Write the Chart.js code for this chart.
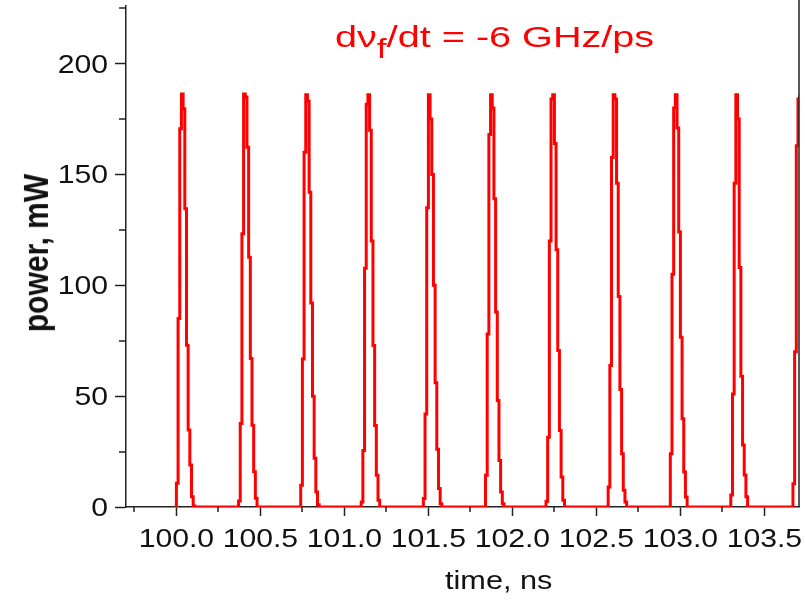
<!DOCTYPE html>
<html>
<head>
<meta charset="utf-8">
<script src="https://cdn.jsdelivr.net/npm/chart.js@4.4.0/dist/chart.umd.min.js"></script>
<style>
  body { margin: 0; background: #fff; }
  #wrap { position: relative; width: 805px; height: 606px; }
  canvas { position: absolute; left: 0; top: 0; }
  .lbl { position: absolute; font-family: 'Liberation Sans', Arial, sans-serif; white-space: nowrap; line-height: 1; }
</style>
</head>
<body>
<div id="wrap">
  <canvas id="c" width="805" height="606"></canvas>
  <div class="lbl" style="left:335px; top:22px; font-size:30px; color:#ff0000; transform-origin:0 0; transform:scaleX(1.32);">dν<span style="font-size:27px; position:relative; top:11px;">f</span>/dt = -6 GHz/ps</div>
  <div class="lbl" style="left:445px; top:567px; font-size:26px; color:#111; transform-origin:0 0; transform:scaleX(1.18);">time, ns</div>
  <div class="lbl" style="left:36px; top:253px; font-size:30px; font-weight:bold; color:#111; transform:translate(-50%,-50%) scaleX(1.18) rotate(-90deg);">power, mW</div>
</div>
<script>
// pulse train, sampled every 0.01 ns; each pulse listed from its first non-zero sample
var dt = 0.01;
var pulseStart = [100.00, 100.37, 100.74, 101.10, 101.47, 101.84, 102.20, 102.57, 102.94, 103.30, 103.67];
var pulse1  = [10.7, 85, 170.6, 186.3, 179.6, 134.5, 73, 34.7, 18.9, 4.6, 0.5, 0];
var pulse2  = [2.7, 37.7, 123.3, 186.3, 185, 162.3, 112.7, 67, 36.9, 15.9, 3.9, 0];
var pulse3  = [9.8, 66.8, 160, 186, 183, 142, 92, 50, 22, 6.8, 1, 0];
var pulse4  = [2.3, 25.5, 107.7, 181.7, 186, 170, 120, 72.8, 36.8, 14.3, 3, 0];
var pulse5  = [3.8, 42, 135, 186, 175, 150, 100, 56, 26, 8.3, 1.5, 0];
var pulse6  = [14.3, 78, 168, 186, 180, 139, 88, 48, 21, 6.8, 1.5, 0];
var pulse7  = [2.6, 31.5, 120, 184, 186, 164, 116, 70.6, 34.5, 13.5, 3, 0];
var pulse8  = [9, 63.8, 157.7, 186, 184, 146, 95, 53, 24, 7.5, 2.2, 0];
var pulse9  = [24, 105, 180, 186, 171, 124, 76.6, 39.8, 15.8, 4.5, 0];
var pulse10 = [5.4, 51, 146, 186, 175, 108, 59, 28, 14.4, 4.6, 0];
var pulse11 = [10.5, 70, 163, 184, 186];
var pulses = [pulse1, pulse2, pulse3, pulse4, pulse5, pulse6, pulse7, pulse8, pulse9, pulse10, pulse11];
var baseline = 0;

var points = [{ x: pulseStart[0], y: baseline }];
pulses.forEach(function (p, k) {
  p.forEach(function (v, i) {
    points.push({ x: +(pulseStart[k] + i * dt).toFixed(3), y: v });
  });
});

function isMajor(v, step) {
  var r = v / step;
  return Math.abs(r - Math.round(r)) < 1e-6;
}

var axisColor = '#222';
var labelFont = "26px 'Liberation Sans', Arial, sans-serif";
var stretch = 1.16;

// tick labels (slightly widened like the original), short minor ticks, right frame line
var extras = {
  id: 'extras',
  afterDraw: function (chart) {
    var ctx = chart.ctx, a = chart.chartArea;
    var xs = chart.scales.x, ys = chart.scales.y;
    ctx.save();
    ctx.strokeStyle = axisColor;
    ctx.lineWidth = 1.5;
    ctx.beginPath();
    xs.ticks.forEach(function (t) {
      if (isMajor(t.value, 0.5)) return;
      var px = Math.round(xs.getPixelForValue(t.value));
      ctx.moveTo(px, a.bottom);
      ctx.lineTo(px, a.bottom + 5);
    });
    ys.ticks.forEach(function (t) {
      if (isMajor(t.value, 50)) return;
      var py = Math.round(ys.getPixelForValue(t.value));
      ctx.moveTo(a.left, py);
      ctx.lineTo(a.left - 7, py);
    });
    ctx.moveTo(a.right, 0);
    ctx.lineTo(a.right, a.bottom);
    ctx.stroke();

    ctx.fillStyle = '#111';
    ctx.font = labelFont;
    ctx.textBaseline = 'alphabetic';
    xs.ticks.forEach(function (t) {
      if (!isMajor(t.value, 0.5)) return;
      ctx.save();
      ctx.translate(xs.getPixelForValue(t.value), a.bottom + 40);
      ctx.scale(stretch, 1);
      ctx.textAlign = 'center';
      ctx.fillText(Number(t.value).toFixed(1), 0, 0);
      ctx.restore();
    });
    ys.ticks.forEach(function (t) {
      if (!isMajor(t.value, 50)) return;
      ctx.save();
      ctx.translate(a.left - 18, ys.getPixelForValue(t.value) + 9);
      ctx.scale(stretch, 1);
      ctx.textAlign = 'right';
      ctx.fillText(String(t.value), 0, 0);
      ctx.restore();
    });
    ctx.restore();
  }
};

function noPad(s) {
  s.paddingTop = 0; s.paddingBottom = 0; s.paddingLeft = 0; s.paddingRight = 0;
}

new Chart(document.getElementById('c').getContext('2d'), {
  type: 'line',
  data: {
    datasets: [{
      data: points,
      borderColor: '#ff0000',
      borderWidth: 3,
      pointRadius: 0,
      stepped: 'before',
      fill: false
    }]
  },
  options: {
    responsive: false,
    animation: false,
    layout: { padding: { top: 6, right: 6, left: 0, bottom: 0 } },
    plugins: { legend: { display: false }, tooltip: { enabled: false } },
    scales: {
      x: {
        type: 'linear',
        min: 99.7,
        max: 103.706,
        afterFit: function (s) { s.height = 99; noPad(s); },
        border: { display: true, color: axisColor, width: 1.5 },
        grid: {
          drawOnChartArea: false,
          tickLength: 9,
          tickWidth: 1.5,
          color: 'rgba(0,0,0,0)',
          tickColor: function (c) { return c.tick && isMajor(c.tick.value, 0.5) ? axisColor : 'rgba(0,0,0,0)'; }
        },
        ticks: { display: false, stepSize: 0.25, includeBounds: false, autoSkip: false, maxRotation: 0 }
      },
      y: {
        min: 0,
        max: 226,
        afterFit: function (s) { s.width = 126; noPad(s); },
        border: { display: true, color: axisColor, width: 1.5 },
        grid: {
          drawOnChartArea: false,
          tickLength: 11,
          tickWidth: 1.5,
          color: 'rgba(0,0,0,0)',
          tickColor: function (c) { return c.tick && isMajor(c.tick.value, 50) ? axisColor : 'rgba(0,0,0,0)'; }
        },
        ticks: { display: false, stepSize: 25, includeBounds: false, autoSkip: false }
      }
    }
  },
  plugins: [extras]
});
</script>
</body>
</html>
